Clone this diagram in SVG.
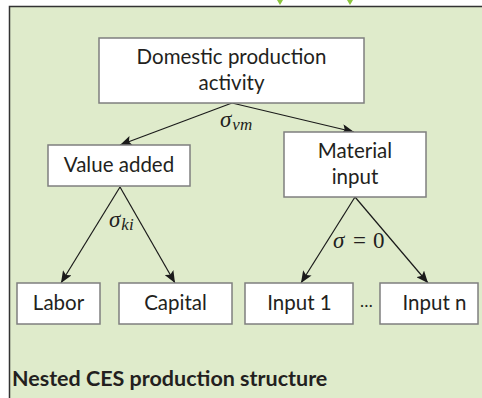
<svg xmlns="http://www.w3.org/2000/svg" width="482" height="398" viewBox="0 0 482 398">
  <defs>
    <marker id="arrow" viewBox="0 0 12 10" refX="12" refY="5" markerWidth="12" markerHeight="10" markerUnits="userSpaceOnUse" orient="auto">
      <path d="M0,0 L12,5 L0,10 L2.5,5 z" fill="#1a1a1a"/>
    </marker>
    <style>
      .box { fill: #ffffff; stroke: #7f7f7f; stroke-width: 1.5; }
      .lbl { font-family: Lato, "Open Sans", "Liberation Sans", sans-serif; font-size: 20.5px; fill: #231f20; text-anchor: middle; }
      .math { font-family: "Liberation Serif", "DejaVu Serif", serif; fill: #231f20; }
      .it { font-style: italic; }
      .conn { stroke: #1a1a1a; stroke-width: 1.2; fill: none; marker-end: url(#arrow); }
      .title { font-family: Lato, "Open Sans", "Liberation Sans", sans-serif; font-size: 21.5px; font-weight: 700; fill: #231f20; }
    </style>
  </defs>

  <rect x="0" y="0" width="482" height="398" fill="#ffffff"/>
  <rect id="panel" x="9.5" y="6.5" width="490" height="400" fill="#dfebcb" stroke="#333333" stroke-width="1.5"/>

  <polygon points="277,0 283,0 280,5" fill="#8dc63f"/>
  <polygon points="347,0 353,0 350,5" fill="#8dc63f"/>

  <g id="connectors">
    <line class="conn" x1="232" y1="103" x2="120" y2="145"/>
    <line class="conn" x1="232" y1="103" x2="354" y2="132"/>
    <line class="conn" x1="120" y1="187" x2="61" y2="283"/>
    <line class="conn" x1="120" y1="187" x2="175" y2="283"/>
    <line class="conn" x1="355" y1="197" x2="301" y2="283"/>
    <line class="conn" x1="355" y1="197" x2="428" y2="283"/>
  </g>

  <g id="domestic">
    <rect class="box" x="99" y="38" width="265" height="65"/>
    <text class="lbl" x="231.5" y="64">Domestic production</text>
    <text class="lbl" x="231.5" y="90">activity</text>
  </g>

  <g id="value-added">
    <rect class="box" x="48" y="145" width="142" height="41"/>
    <text class="lbl" x="119" y="172">Value added</text>
  </g>

  <g id="material">
    <rect class="box" x="284" y="132" width="142" height="65"/>
    <text class="lbl" x="355" y="158">Material</text>
    <text class="lbl" x="355" y="184">input</text>
  </g>

  <g id="labor">
    <rect class="box" x="17" y="283" width="83" height="41"/>
    <text class="lbl" x="58.5" y="310">Labor</text>
  </g>

  <g id="capital">
    <rect class="box" x="119" y="283" width="113" height="41"/>
    <text class="lbl" x="175.5" y="310">Capital</text>
  </g>

  <g id="input1">
    <rect class="box" x="245" y="283" width="108" height="41"/>
    <text class="lbl" x="299.5" y="310">Input 1</text>
  </g>

  <g id="inputn">
    <rect class="box" x="380" y="283" width="98" height="41"/>
    <text class="lbl" x="434.5" y="310">Input n</text>
  </g>

  <text class="lbl" x="366.5" y="307" style="font-size:17px">…</text>

  <g id="labels">
    <text class="math" x="220" y="127" font-size="23"><tspan class="it">σ</tspan><tspan class="it" font-size="17" dy="3" dx="1">vm</tspan></text>
    <text class="math" x="109" y="227" font-size="23"><tspan class="it">σ</tspan><tspan class="it" font-size="17" dy="3" dx="1">ki</tspan></text>
    <text class="math" font-size="23" y="248"><tspan class="it" x="333">σ</tspan><tspan x="353">=</tspan><tspan x="373">0</tspan></text>
  </g>

  <text class="title" x="12" y="386">Nested CES production structure</text>
</svg>
